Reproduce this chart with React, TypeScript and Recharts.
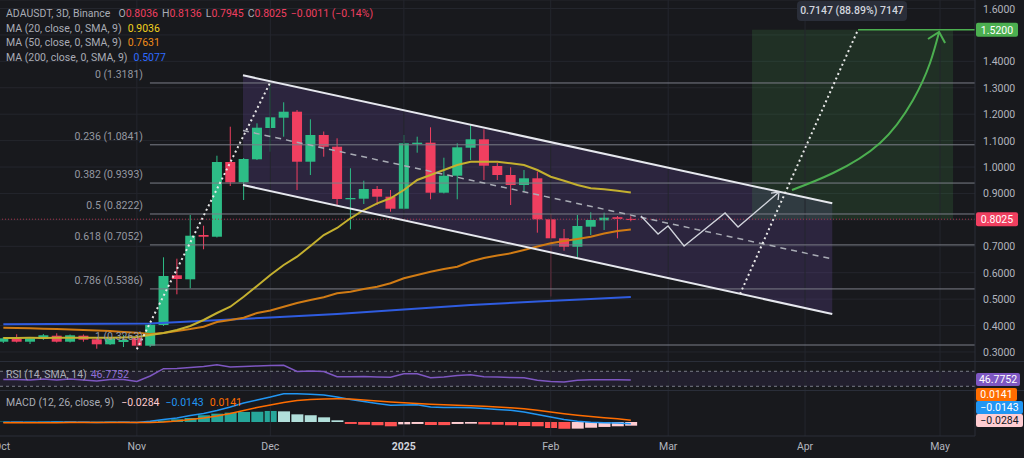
import {
  Area,
  Bar,
  CartesianGrid,
  Cell,
  ComposedChart,
  Line,
  ReferenceArea,
  ReferenceLine,
  Scatter,
  XAxis,
  YAxis,
} from 'recharts';

// 3D candles, ADAUSDT (Binance), oldest first
const OPEN = [0.3388, 0.349, 0.3388, 0.349, 0.3615, 0.3388, 0.3615, 0.3479, 0.329, 0.3377, 0.354, 0.3237, 0.402, 0.5902, 0.575, 0.7427, 0.7362, 1.019, 0.9422, 1.0292, 1.1477, 1.1867, 1.2094, 1.0201, 1.1212, 1.0769, 0.8779, 0.8801, 0.9168, 0.8877, 0.8422, 1.0871, 1.0921, 0.9028, 0.9671, 1.0731, 1.1049, 1.0039, 0.9698, 0.9319, 0.9573, 0.8021, 0.7302, 0.6984, 0.7742, 0.7983, 0.81, 0.8036];
const HIGH = [0.3566, 0.3668, 0.3547, 0.368, 0.3706, 0.3661, 0.3661, 0.3528, 0.3566, 0.3642, 0.3604, 0.4058, 0.6583, 0.653, 0.8184, 0.7779, 1.0428, 1.1526, 1.0342, 1.1655, 1.3181, 1.245, 1.2158, 1.1806, 1.1344, 1.1087, 0.9952, 0.9482, 0.9282, 0.913, 1.1212, 1.1148, 1.1503, 1.0353, 1.0898, 1.1628, 1.1428, 1.0152, 0.9989, 0.9887, 0.9823, 0.8222, 0.7654, 0.8184, 0.8286, 0.8271, 0.8146, 0.8136];
const LOW = [0.3339, 0.3358, 0.3301, 0.3453, 0.3358, 0.3358, 0.3388, 0.3123, 0.3263, 0.3188, 0.3101, 0.3188, 0.3983, 0.5182, 0.541, 0.6886, 0.7333, 0.9282, 0.8752, 1.0266, 1.058, 1.1148, 0.913, 0.9698, 1.0391, 0.8562, 0.7643, 0.86, 0.8562, 0.8309, 0.8392, 1.0542, 0.8779, 0.8998, 0.8779, 1.0266, 0.9509, 0.9509, 0.8562, 0.9066, 0.7514, 0.51, 0.6833, 0.6568, 0.7427, 0.7616, 0.7302, 0.7945];
const CLOSE = [0.3517, 0.3388, 0.3517, 0.3631, 0.3388, 0.3631, 0.3464, 0.329, 0.3517, 0.3453, 0.3237, 0.4032, 0.5875, 0.5762, 0.74, 0.7362, 1.019, 0.9422, 1.0304, 1.1488, 1.1882, 1.2094, 1.0201, 1.1212, 1.0769, 0.879, 0.8828, 0.9168, 0.8877, 0.8422, 1.0898, 1.0921, 0.9028, 0.9671, 1.0746, 1.1049, 1.005, 0.9698, 0.9319, 0.9573, 0.8021, 0.7302, 0.6984, 0.7768, 0.7995, 0.8082, 0.8036, 0.8025];

const MA20 = [0.3528, 0.3531, 0.3535, 0.353, 0.3537, 0.3542, 0.354, 0.3536, 0.3541, 0.3548, 0.3566, 0.3642, 0.3717, 0.3831, 0.3983, 0.421, 0.4475, 0.4713, 0.5092, 0.5497, 0.5913, 0.6292, 0.6606, 0.7011, 0.7427, 0.7692, 0.8059, 0.8373, 0.8627, 0.8816, 0.913, 0.9509, 0.9698, 0.9887, 1.0076, 1.0201, 1.0201, 1.0201, 1.0141, 1.0076, 0.9887, 0.9634, 0.9482, 0.9319, 0.9195, 0.9157, 0.9104, 0.9036];
const MA50 = [0.3918, 0.3907, 0.3896, 0.3881, 0.3866, 0.385, 0.3831, 0.3813, 0.3794, 0.376, 0.3729, 0.368, 0.3717, 0.3794, 0.3869, 0.3956, 0.4134, 0.421, 0.4297, 0.4475, 0.457, 0.4713, 0.4853, 0.4967, 0.5069, 0.522, 0.5281, 0.5383, 0.547, 0.5599, 0.5788, 0.5913, 0.6038, 0.614, 0.6227, 0.6424, 0.6556, 0.6651, 0.6734, 0.6859, 0.6992, 0.7113, 0.72, 0.7276, 0.7363, 0.7484, 0.7578, 0.7631];
const MA200 = [0.4047, null, null, null, null, null, null, null, null, null, null, 0.4078, null, null, 0.4153, null, null, null, null, null, 0.4305, null, null, null, null, 0.4437, null, null, null, null, 0.4607, null, null, null, null, 0.4778, null, null, null, null, 0.491, null, null, null, 0.5005, null, null, 0.5077];

const RSI = [48.1, 48.4, 46.8, 49.5, 46.8, 49.5, 46.8, 44.1, 48.1, 48.1, 42.8, 57.5, 76.9, 77.5, 80.1, 82.8, 87.6, 81.5, 82.8, 84.1, 85.5, 86.0, 69.5, 70.8, 69.5, 55.6, 55.6, 56.1, 54.8, 54.0, 63.6, 63.6, 52.9, 54.8, 58.8, 60.9, 55.6, 54.8, 53.5, 52.9, 46.0, 42.8, 41.5, 46.0, 47.6, 47.6, 47.7, 46.7752];

const MACD = [-0.002, -0.001, -0.002, -0.001, 0.0, -0.001, -0.002, -0.003, -0.002, -0.002, -0.003, 0.005, 0.019, 0.031, 0.05, 0.065, 0.088, 0.115, 0.146, 0.169, 0.192, 0.218, 0.218, 0.213, 0.208, 0.192, 0.173, 0.158, 0.142, 0.128, 0.131, 0.133, 0.115, 0.112, 0.112, 0.11, 0.104, 0.096, 0.09, 0.077, 0.058, 0.038, 0.019, 0.005, -0.002, -0.005, -0.008, -0.0143];
const SIGNAL = [-0.005, -0.005, -0.005, -0.005, -0.005, -0.004, -0.004, -0.004, -0.004, -0.004, -0.004, -0.004, 0.0, 0.008, 0.019, 0.031, 0.046, 0.065, 0.088, 0.112, 0.131, 0.15, 0.165, 0.173, 0.177, 0.178, 0.177, 0.169, 0.162, 0.154, 0.148, 0.142, 0.136, 0.132, 0.128, 0.125, 0.121, 0.115, 0.109, 0.102, 0.09, 0.077, 0.064, 0.052, 0.042, 0.033, 0.025, 0.0141];
const HIST = [0.003, 0.002, 0.002, 0.003, 0.004, 0.003, 0.002, 0.002, 0.003, 0.002, 0.001, 0.004, 0.011, 0.021, 0.031, 0.052, 0.064, 0.072, 0.077, 0.079, 0.085, 0.082, 0.059, 0.052, 0.036, 0.013, -0.015, -0.021, -0.025, -0.033, -0.018, -0.015, -0.023, -0.024, -0.015, -0.013, -0.018, -0.021, -0.025, -0.031, -0.033, -0.046, -0.052, -0.051, -0.044, -0.038, -0.033, -0.0284];

const PRICE_TICKS = [0.3, 0.4, 0.5, 0.6, 0.7, 0.8, 0.9, 1.0, 1.1, 1.2, 1.3, 1.4, 1.5, 1.6];
// tick labels that sit under a price tag in the original
const PRICE_TICKS_COVERED = [0.8, 1.5];
const TIME_TICKS = [-0.1, 10, 20, 30, 41, 49.8, 60.05, 70.16];
const TIME_LABELS = ['Oct', 'Nov', 'Dec', '2025', 'Feb', 'Mar', 'Apr', 'May'];

// fib retracement drawn from the Nov low to the Dec high
const FIB_LEVELS = ['0', '0.236', '0.382', '0.5', '0.618', '0.786', '1'];
const FIB_PRICES = [1.3181, 1.0841, 0.9393, 0.8222, 0.7052, 0.5386, 0.3263];
const FIB_START = 10.98;
const FIB_LABEL_AT = 10.46;

// descending channel (bar index, price)
const CHANNEL_X = [17.95, 62.09];
const CHANNEL_UPPER = [1.3472, 0.8627];
const CHANNEL_LOWER = [0.9319, 0.4437];
const CHANNEL_MID = [1.1382, 0.6519];

// projected path and arrows
const PATH_X = [47.76, 49.04, 49.79, 50.99, 54.06, 55.03, 58.1];
const PATH_P = [0.8146, 0.7465, 0.7768, 0.7011, 0.826, 0.773, 0.9054];
const PATH_HEAD_X = [57.5, 58.1, 58.03];
const PATH_HEAD_P = [0.9016, 0.9054, 0.8751];
const RALLY_X = [10.0, 19.97];
const RALLY_P = [0.31, 1.3181];
const TARGET_X = [55.18, 64.02];
const TARGET_P = [0.5194, 1.52];
const CURVE_X = [59.07, 62.15, 65.67, 68.14, 69.41, 70.09];
const CURVE_P = [0.913, 0.9774, 1.0909, 1.2537, 1.3937, 1.5111];
const CURVE_HEAD_X = [69.26, 70.09, 70.54];
const CURVE_HEAD_P = [1.4846, 1.5111, 1.4694];
const BOX_X = [56.08, 71.14];
const BOX_P = [0.8025, 1.52];
const LAST_PRICE = 0.8025;

const X_DOMAIN: [number, number] = [-0.25, 72.78];
const PRICE_DOMAIN: [number, number] = [0.262, 1.6322];
const RSI_DOMAIN: [number, number] = [20.1, 94.8];
const MACD_DOMAIN: [number, number] = [-0.1077, 0.2462];

const BG = '#18191d';
const GRID = '#24262d';
const BORDER = '#2a2e39';
const TEXT = '#a9acb5';
const UP = '#2dbd86';
const DOWN = '#f03f60';
const BODY_W = 10;
const FONT = 'Roboto, "Noto Sans", sans-serif';

const rows = OPEN.map((open, i) => ({
  i,
  open,
  high: HIGH[i],
  low: LOW[i],
  close: CLOSE[i],
  ma20: MA20[i],
  ma50: MA50[i],
  ma200: MA200[i],
  rsi: RSI[i],
  macd: MACD[i],
  signal: SIGNAL[i],
  hist: HIST[i],
}));

const toPts = (xs: number[], ps: number[]) => xs.map((i, k) => ({ i, p: ps[k] }));
const channelFill = CHANNEL_X.map((i, k) => ({ i, band: [CHANNEL_LOWER[k], CHANNEL_UPPER[k]] }));
const fibLabels = FIB_PRICES.map((p, k) => ({ i: FIB_LABEL_AT, p, text: `${FIB_LEVELS[k]} (${p.toFixed(4)})` }));

function histColor(k: number) {
  const v = HIST[k];
  const prev = k > 0 ? HIST[k - 1] : v;
  if (v >= 0) return v >= prev ? '#26a69a' : '#b2dfdb';
  return v < prev ? '#ff5252' : '#ffcdd2';
}

function Candle(props: any) {
  const { x, y, width, height, payload } = props;
  if (x == null || y == null || !payload) return null;
  const top = Math.min(y, y + height);
  const h = Math.abs(height);
  const { open, close, high, low } = payload;
  const color = close >= open ? UP : DOWN;
  const k = h / (high - low);
  const bodyTop = top + (high - Math.max(open, close)) * k;
  const bodyBot = top + (high - Math.min(open, close)) * k;
  const cx = x + width / 2;
  return (
    <g>
      <line x1={cx} x2={cx} y1={top} y2={top + h} stroke={color} strokeWidth={1} />
      <rect x={cx - BODY_W / 2} y={bodyTop} width={BODY_W} height={Math.max(1, bodyBot - bodyTop)} fill={color} />
    </g>
  );
}

function FibText(props: any) {
  const { cx, cy, payload } = props;
  return (
    <text x={cx} y={cy - 5} textAnchor="end" fill="#9598a1" fontSize={10.5} fontFamily={FONT}>
      {payload.text}
    </text>
  );
}

function PriceTick(props: any) {
  const { x, y, payload } = props;
  if (PRICE_TICKS_COVERED.some((v) => Math.abs(v - payload.value) < 1e-6)) return null;
  return (
    <text x={x} y={y + 4} textAnchor="start" fill="#b2b5be" fontSize={10.5} fontFamily={FONT}>
      {Number(payload.value).toFixed(4)}
    </text>
  );
}

function PriceTag(props: any) {
  const { viewBox, text, bg } = props;
  if (!viewBox) return null;
  const x = viewBox.x + viewBox.width + 1;
  const y = viewBox.y;
  return (
    <g>
      <rect x={x} y={y - 7} width={42} height={14} rx={2} fill={bg} />
      <text x={x + 21} y={y + 4} textAnchor="middle" fill="#ffffff" fontSize={10.5} fontFamily={FONT}>
        {text}
      </text>
    </g>
  );
}

function TimeTick(props: any) {
  const { x, y, payload } = props;
  const k = TIME_TICKS.indexOf(payload.value);
  const label = TIME_LABELS[k] ?? '';
  const isYear = /^\d{4}$/.test(label);
  return (
    <text x={x} y={y + 12} textAnchor="middle" fill={isYear ? '#d1d4dc' : '#b2b5be'} fontSize={10.5} fontWeight={isYear ? 700 : 400} fontFamily={FONT}>
      {label}
    </text>
  );
}

const lineProps = { dot: false, activeDot: false, isAnimationActive: false } as const;

function Tag({ top, bg, color = '#ffffff', width, children }: any) {
  return (
    <div
      style={{
        position: 'absolute',
        left: 976,
        top,
        width,
        height: 13,
        lineHeight: '13px',
        background: bg,
        color,
        fontSize: 10.5,
        textAlign: 'center',
        borderRadius: 2,
      }}
    >
      {children}
    </div>
  );
}

export default function App() {
  const monthLines = TIME_TICKS.slice(1).map((t) => (
    <ReferenceLine key={`m${t}`} x={t} stroke={GRID} strokeWidth={1} />
  ));
  const muted = { color: TEXT };
  return (
    <div
      style={{
        position: 'fixed',
        left: 0,
        top: 0,
        width: 1024,
        height: 458,
        background: BG,
        fontFamily: FONT,
        overflow: 'hidden',
      }}
    >
      <div style={{ position: 'absolute', left: 0, top: 0 }}>
        <ComposedChart width={1024} height={362} data={rows} margin={{ top: 0, right: 0, bottom: 0, left: 0 }}>
          <CartesianGrid vertical={false} stroke={GRID} />
          {monthLines}
          <XAxis dataKey="i" type="number" domain={X_DOMAIN} allowDataOverflow hide />
          <YAxis
            orientation="right"
            width={49}
            domain={PRICE_DOMAIN}
            allowDataOverflow
            ticks={PRICE_TICKS}
            tick={<PriceTick />}
            tickLine={false}
            tickSize={0}
            tickMargin={8}
            axisLine={{ stroke: BORDER }}
          />
          {FIB_PRICES.map((p) => (
            <ReferenceLine
              key={`f${p}`}
              segment={[
                { x: FIB_START, y: p },
                { x: X_DOMAIN[1], y: p },
              ]}
              stroke="#7b7e88"
              strokeWidth={1}
            />
          ))}
          <ReferenceLine
            y={LAST_PRICE}
            stroke="#a8344c"
            strokeDasharray="1 2"
            label={<PriceTag text={LAST_PRICE.toFixed(4)} bg={DOWN} />}
          />
          <Bar dataKey={(d: any) => [d.low, d.high]} barSize={10} shape={<Candle />} isAnimationActive={false} />
          <Line dataKey="ma200" stroke="#2f5ce0" strokeWidth={2} connectNulls {...lineProps} />
          <Line dataKey="ma50" stroke="#d07b14" strokeWidth={2} {...lineProps} />
          <Line dataKey="ma20" stroke="#c4b02f" strokeWidth={2} {...lineProps} />
          <Area
            data={channelFill}
            dataKey="band"
            type="linear"
            fill="#7e57c2"
            fillOpacity={0.2}
            stroke="none"
            dot={false}
            activeDot={false}
            isAnimationActive={false}
          />
          <ReferenceArea x1={BOX_X[0]} x2={BOX_X[1]} y1={BOX_P[0]} y2={BOX_P[1]} fill="#4caf50" fillOpacity={0.16} stroke="none" />
          <ReferenceLine
            segment={[
              { x: TARGET_X[1], y: BOX_P[1] },
              { x: X_DOMAIN[1], y: BOX_P[1] },
            ]}
            stroke="#4caf50"
            strokeWidth={1.5}
            label={<PriceTag text={BOX_P[1].toFixed(4)} bg="#4caf50" />}
          />
          <Line data={toPts(CHANNEL_X, CHANNEL_UPPER)} dataKey="p" type="linear" stroke="#e6e8ee" strokeWidth={2} {...lineProps} />
          <Line data={toPts(CHANNEL_X, CHANNEL_LOWER)} dataKey="p" type="linear" stroke="#e6e8ee" strokeWidth={2} {...lineProps} />
          <Line data={toPts(CHANNEL_X, CHANNEL_MID)} dataKey="p" type="linear" stroke="#a9acb5" strokeWidth={1.5} strokeDasharray="6 5" {...lineProps} />
          <Line data={toPts(RALLY_X, RALLY_P)} dataKey="p" type="linear" stroke="#e8e8e8" strokeWidth={2} strokeDasharray="2 3" {...lineProps} />
          <Line data={toPts(TARGET_X, TARGET_P)} dataKey="p" type="linear" stroke="#e8e8e8" strokeWidth={2} strokeDasharray="2 3" {...lineProps} />
          <Line data={toPts(PATH_X, PATH_P)} dataKey="p" type="linear" stroke="#d1d4dc" strokeWidth={1.3} {...lineProps} />
          <Line data={toPts(PATH_HEAD_X, PATH_HEAD_P)} dataKey="p" type="linear" stroke="#d1d4dc" strokeWidth={1.3} {...lineProps} />
          <Line data={toPts(CURVE_X, CURVE_P)} dataKey="p" type="natural" stroke="#4caf50" strokeWidth={2} {...lineProps} />
          <Line data={toPts(CURVE_HEAD_X, CURVE_HEAD_P)} dataKey="p" type="linear" stroke="#4caf50" strokeWidth={2} {...lineProps} />
          <Scatter data={fibLabels} dataKey="p" shape={<FibText />} isAnimationActive={false} />
        </ComposedChart>
      </div>

      <div style={{ position: 'absolute', left: 0, top: 362 }}>
        <ComposedChart width={1024} height={28} data={rows} margin={{ top: 0, right: 0, bottom: 0, left: 0 }}>
          {monthLines}
          <XAxis dataKey="i" type="number" domain={X_DOMAIN} allowDataOverflow hide />
          <YAxis orientation="right" width={49} domain={RSI_DOMAIN} allowDataOverflow tick={false} tickLine={false} axisLine={{ stroke: BORDER }} />
          <ReferenceArea y1={30} y2={70} fill="#7e57c2" fillOpacity={0.1} stroke="none" />
          <ReferenceLine y={70} stroke="#787b86" strokeDasharray="3 3" />
          <ReferenceLine y={30} stroke="#787b86" strokeDasharray="3 3" />
          <Line dataKey="rsi" type="linear" stroke="#7e57c2" strokeWidth={1.5} {...lineProps} />
        </ComposedChart>
      </div>

      <div style={{ position: 'absolute', left: 0, top: 390 }}>
        <ComposedChart width={1024} height={68} data={rows} margin={{ top: 0, right: 0, bottom: 0, left: 0 }}>
          {monthLines}
          <XAxis
            dataKey="i"
            type="number"
            domain={X_DOMAIN}
            allowDataOverflow
            ticks={TIME_TICKS}
            interval={0}
            height={22}
            tick={<TimeTick />}
            tickLine={false}
            tickSize={0}
            axisLine={{ stroke: BORDER }}
          />
          <YAxis orientation="right" width={49} domain={MACD_DOMAIN} allowDataOverflow tick={false} tickLine={false} axisLine={{ stroke: BORDER }} />
          <Bar dataKey="hist" barSize={12} isAnimationActive={false}>
            {rows.map((r) => (
              <Cell key={r.i} fill={histColor(r.i)} />
            ))}
          </Bar>
          <Line dataKey="macd" type="linear" stroke="#2196f3" strokeWidth={1.5} {...lineProps} />
          <Line dataKey="signal" type="linear" stroke="#ff6d00" strokeWidth={1.5} {...lineProps} />
        </ComposedChart>
      </div>

      {/* pane separators */}
      <div style={{ position: 'absolute', left: 0, top: 361, width: 1024, height: 1, background: BORDER }} />
      <div style={{ position: 'absolute', left: 0, top: 390, width: 1024, height: 1, background: BORDER }} />

      {/* legends */}
      <div style={{ position: 'absolute', left: 6, top: 7, fontSize: 10.5, lineHeight: '14.5px', whiteSpace: 'nowrap', color: TEXT }}>
        <div>
          ADAUSDT, 3D, Binance
          <span style={{ marginLeft: 8 }}>O</span>
          <span style={{ color: DOWN }}>0.8036</span>
          <span style={{ marginLeft: 4 }}>H</span>
          <span style={{ color: DOWN }}>0.8136</span>
          <span style={{ marginLeft: 4 }}>L</span>
          <span style={{ color: DOWN }}>0.7945</span>
          <span style={{ marginLeft: 4 }}>C</span>
          <span style={{ color: DOWN }}>0.8025</span>
          <span style={{ marginLeft: 4, color: DOWN }}>−0.0011 (−0.14%)</span>
        </div>
        <div>
          MA (20, close, 0, SMA, 9)<span style={{ marginLeft: 6, color: '#f2d21e' }}>0.9036</span>
        </div>
        <div>
          MA (50, close, 0, SMA, 9)<span style={{ marginLeft: 6, color: '#f08c1a' }}>0.7631</span>
        </div>
        <div>
          MA (200, close, 0, SMA, 9)<span style={{ marginLeft: 6, color: '#2e6bff' }}>0.5077</span>
        </div>
      </div>
      <div style={{ position: 'absolute', left: 6, top: 368, fontSize: 10.5, lineHeight: '13px', whiteSpace: 'nowrap', ...muted }}>
        RSI (14, SMA, 14)<span style={{ marginLeft: 4, color: '#8f6fd6' }}>46.7752</span>
      </div>
      <div style={{ position: 'absolute', left: 6, top: 396, fontSize: 10.5, lineHeight: '13px', whiteSpace: 'nowrap', ...muted }}>
        MACD (12, 26, close, 9)
        <span style={{ marginLeft: 7, color: '#fccbcd' }}>−0.0284</span>
        <span style={{ marginLeft: 6, color: '#2196f3' }}>−0.0143</span>
        <span style={{ marginLeft: 6, color: '#ff6d00' }}>0.0141</span>
      </div>

      {/* measurement label */}
      <div
        style={{
          position: 'absolute',
          left: 797,
          top: 1,
          width: 110,
          height: 20,
          lineHeight: '20px',
          background: '#2a2e39',
          borderRadius: 4,
          color: '#d1d4dc',
          fontSize: 10.5,
          fontWeight: 500,
          textAlign: 'center',
        }}
      >
        0.7147 (88.89%) 7147
      </div>

      {/* pane value tags */}
      <Tag top={373} bg="#7e57c2" width={44}>46.7752</Tag>
      <Tag top={388} bg="#ff6d00" width={41}>0.0141</Tag>
      <Tag top={401} bg="#2196f3" width={47}>−0.0143</Tag>
      <Tag top={414} bg="#ffcdd2" color="#131722" width={47}>−0.0284</Tag>
    </div>
  );
}
